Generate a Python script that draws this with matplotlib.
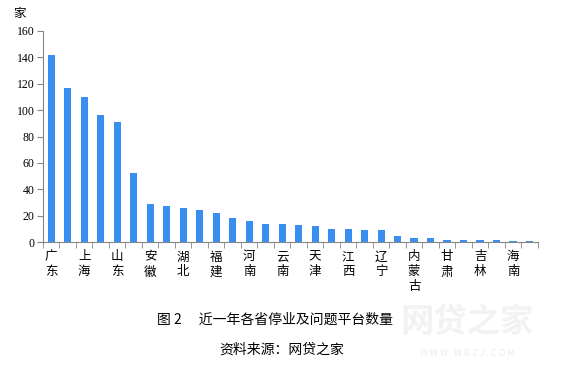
import numpy as np
import matplotlib.pyplot as plt

plt.rcParams['font.family'] = ['Noto Sans CJK SC', 'DejaVu Sans']

# provinces, sorted by count (only every other one is labelled in the chart)
provinces = ['广东', '浙江', '上海', '北京', '山东', '江苏', '安徽', '四川', '湖北', '河北',
             '福建', '湖南', '河南', '重庆', '云南', '陕西', '天津', '广西', '江西', '山西',
             '辽宁', '贵州', '内蒙古', '黑龙江', '甘肃', '新疆', '吉林', '宁夏', '海南', '青海']
counts = [142, 117, 110, 96, 91, 52, 29, 27, 26, 24,
          22, 18, 16, 14, 14, 13, 12, 10, 10, 9,
          9, 5, 3, 3, 2, 2, 2, 2, 1, 1]
y_ticks = [0, 20, 40, 60, 80, 100, 120, 140, 160]

bar_color = '#3a8ef0'
axis_color = '#868686'

fig = plt.figure(figsize=(5.62, 3.68), dpi=100)
ax = fig.add_axes([0.0765, 0.342, 0.8805, 0.574])

x = np.arange(len(provinces))
ax.bar(x, counts, width=0.44, color=bar_color)

ax.set_xlim(-0.5, len(provinces) - 0.5)
ax.set_ylim(0, 160)
ax.set_yticks(y_ticks)
ax.set_yticklabels([str(v) for v in y_ticks], family='Liberation Serif', fontsize=8.5)

# tick marks at category boundaries, labels under every other category
ax.set_xticks(np.arange(len(provinces) + 1) - 0.5, minor=True)
ax.set_xticks(x[::2])
ax.set_xticklabels(['\n'.join(p) for p in provinces[::2]], fontsize=9, linespacing=1.2)
ax.tick_params(axis='x', which='major', length=0, pad=6)
ax.tick_params(axis='x', which='minor', length=4, color=axis_color)
ax.tick_params(axis='y', length=4, color=axis_color, pad=2)

for s in ['top', 'right']:
    ax.spines[s].set_visible(False)
for s in ['left', 'bottom']:
    ax.spines[s].set_color(axis_color)

fig.text(19 / 562, 1 - 13 / 368, '家', ha='center', va='center', fontsize=9)

# watermark
fig.text(467 / 562, 1 - 322 / 368, '网贷之家', ha='center', va='center',
         fontsize=24, fontweight='bold', color='#f2f2f2')
fig.text(467 / 562, 1 - 353 / 368, 'W W W . W D Z J . C O M', ha='center', va='center',
         fontsize=6.5, color='#ececec')

fig.text(275 / 562, 1 - 320 / 368, '图 2　 近一年各省停业及问题平台数量', ha='center', va='center',
         fontsize=10)
fig.text(282 / 562, 1 - 350 / 368, '资料来源：网贷之家', ha='center', va='center',
         fontsize=10)

fig.savefig('out.png', dpi=100)
